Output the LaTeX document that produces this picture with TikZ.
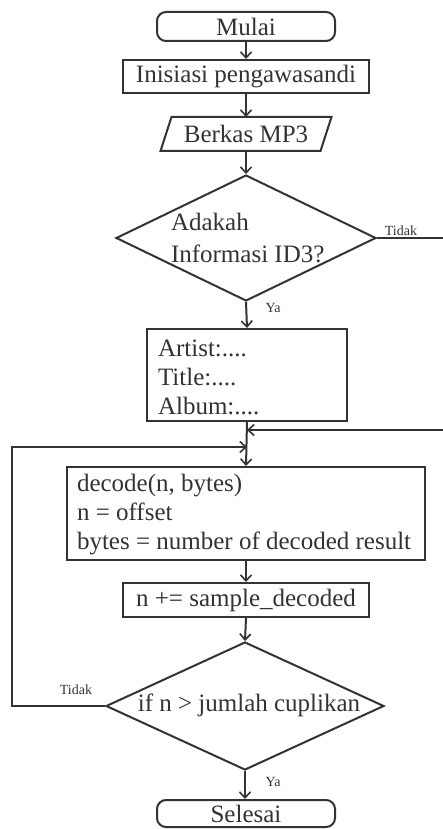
\documentclass[tikz,border=0pt]{standalone}
\usepackage{fontspec}
\setmainfont{Liberation Serif}
\usetikzlibrary{arrows.meta,shapes.geometric}
\definecolor{ink}{HTML}{333333}
\begin{document}
\begin{tikzpicture}[x=1pt,y=-1pt,
  line width=2pt,
  every node/.style={text=ink,font=\fontsize{25}{29}\selectfont},
  flow/.style={draw=ink,-{Straight Barb[length=6pt,width=11pt,line width=1.6pt]}},
  box/.style={draw=ink,rectangle,inner sep=0pt},
  term/.style={draw=ink,rectangle,rounded corners=9pt,inner sep=0pt},
  diam/.style={draw=ink,diamond,inner sep=0pt},
  lbl/.style={font=\fontsize{14}{16}\selectfont,inner sep=0pt}]
\useasboundingbox (0,0) rectangle (442,829);
\fill[white] (0,0) rectangle (442,829);

\node[term,minimum width=178pt,minimum height=29pt] (mulai) at (246,26.5) {Mulai};
\node[box,minimum width=246pt,minimum height=33pt] (init) at (246,76.5) {Inisiasi pengawasandi};
\node[inner sep=0pt,minimum width=158pt,minimum height=32pt] (berkas) at (246,134) {Berkas MP3};
\draw[ink] ([xshift=5.5pt]berkas.north west) -- ([xshift=5.5pt]berkas.north east)
  -- ([xshift=-5.5pt]berkas.south east) -- ([xshift=-5.5pt]berkas.south west) -- cycle;

\node[diam,minimum width=260pt,minimum height=126pt] (dec1) at (246,238) {};
\node[anchor=west,align=left,inner sep=0pt,font=\fontsize{25}{32}\selectfont] (dec1t) at (170,238) {Adakah\\Informasi ID3?};

\node[box,minimum width=200pt,minimum height=92pt] (artist) at (247,375) {};
\node[anchor=west,align=left,inner sep=0pt,font=\fontsize{25}{29}\selectfont] (artistt) at (157,377) {Artist:....\\Title:....\\Album:....};

\node[box,minimum width=358pt,minimum height=93pt] (decode) at (246,513.5) {};
\node[anchor=west,align=left,inner sep=0pt] (decodet) at (76,515) {decode(n, bytes)\\n = offset\\bytes = number of decoded result};

\node[box,minimum width=246pt,minimum height=34pt] (nplus) at (246,600) {n += sample\_decoded};

\node[diam,minimum width=278pt,minimum height=128pt] (dec2) at (245,706) {};
\node[inner sep=0pt] (dec2t) at (249,705) {if n > jumlah cuplikan};

\node[term,minimum width=178pt,minimum height=27pt] (selesai) at (246,813.5) {Selesai};

\coordinate (j1) at (247,430);
\coordinate (j2) at (247,447);
\coordinate (r1) at (445,238);
\coordinate (r2) at (445,430);
\coordinate (l1) at (11.5,706);
\coordinate (l2) at (11.5,447);

\node[lbl] (t1) at (401,231) {Tidak};
\node[lbl] (t2) at (76,690) {Tidak};
\node[lbl] (y1) at (273,308) {Ya};
\node[lbl] (y2) at (273,782) {Ya};

\draw[flow] (mulai) -- (init);
\draw[flow] (init) -- (berkas.north);
\draw[flow] (berkas.south) -- (dec1.north);
\draw[flow] (dec1.south) -- (artist.north);
\draw[flow] (artist.south) -- (decode.north);
\draw[flow] (dec1.east) -- (r1) -- (r2) -- (j1);
\draw[flow] (decode) -- (nplus);
\draw[flow] (nplus.south) -- (dec2.north);
\draw[flow] (dec2.west) -- (l1) -- (l2) -- (j2);
\draw[flow] (dec2.south) -- (dec2.south |- selesai.north);
\end{tikzpicture}
\end{document}
